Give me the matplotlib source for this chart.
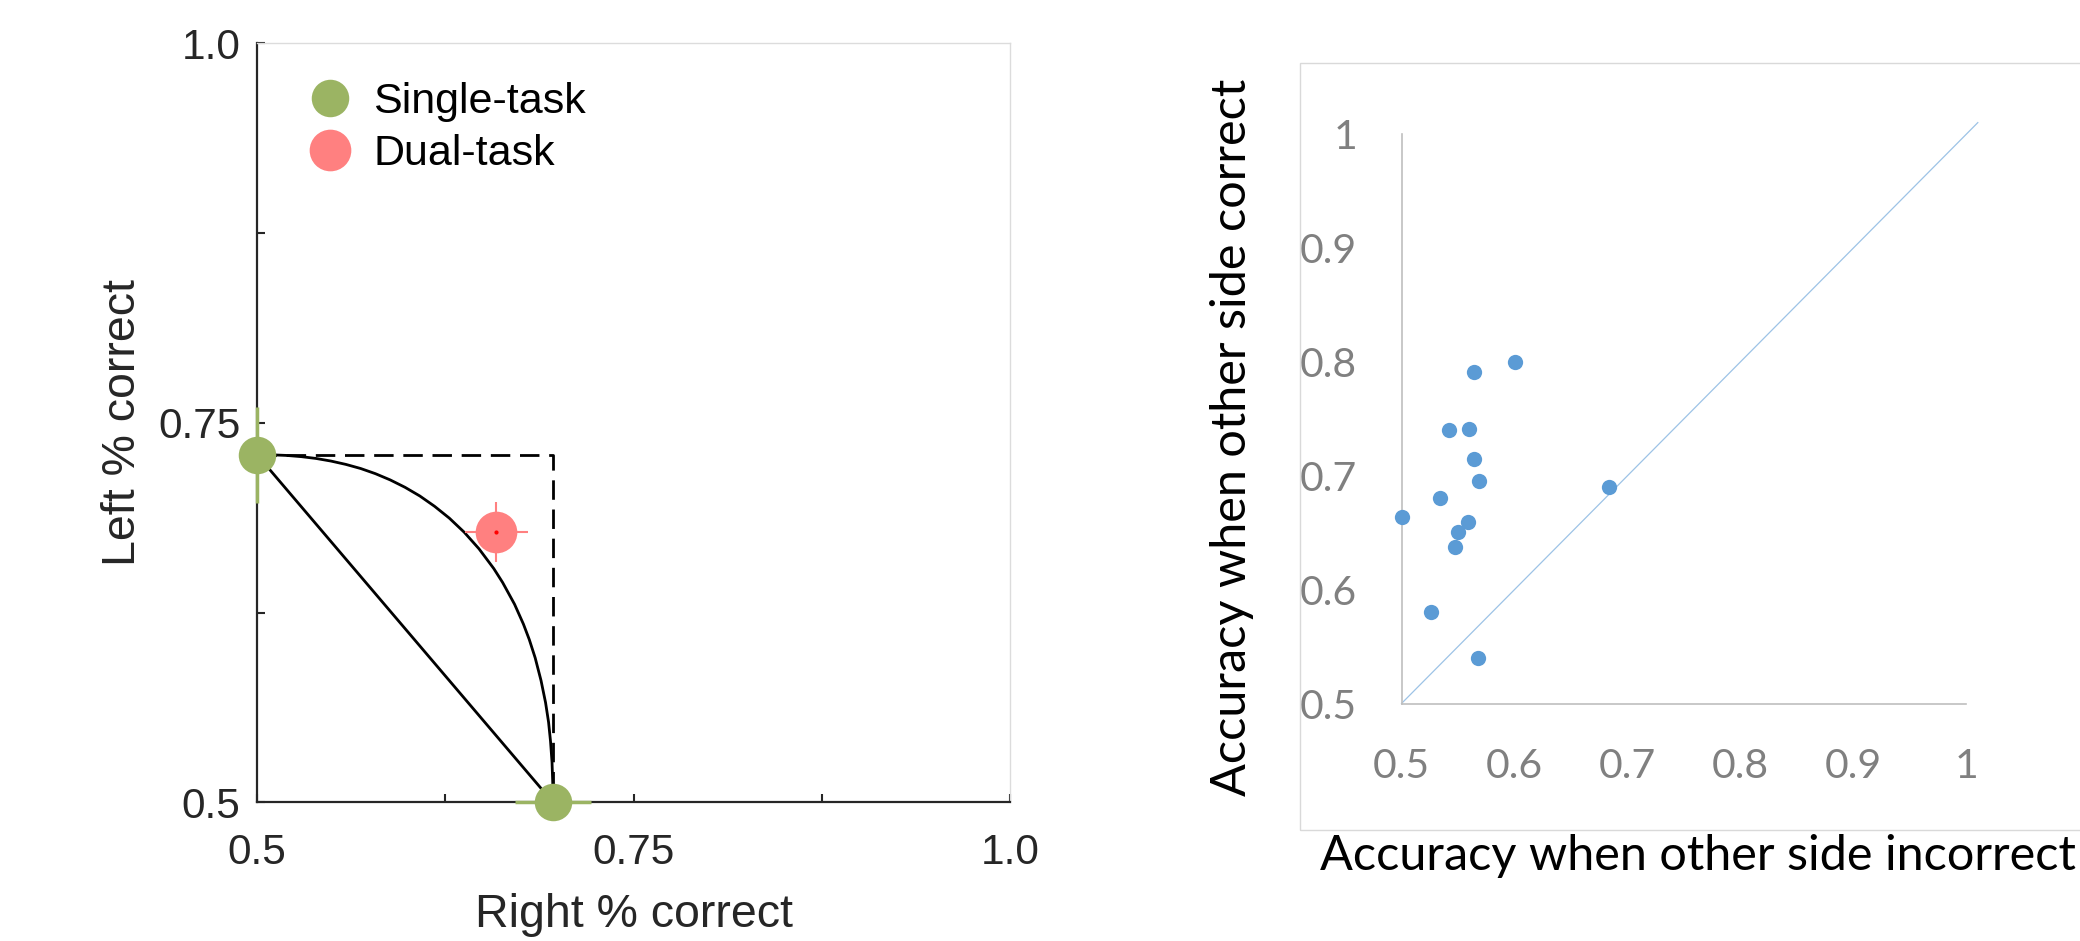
import matplotlib
matplotlib.use("Agg")
import matplotlib.pyplot as plt
from matplotlib.lines import Line2D
from matplotlib.patches import Rectangle

plt.rcParams["font.family"] = ["Liberation Sans", "DejaVu Sans"]

# left panel: single vs dual task performance
single_right = [0.500, 0.6965]
single_left = [0.729, 0.500]
single_err_right = [0.0, 0.025]
single_err_left = [0.0315, 0.0]
dual_right = [0.659]
dual_left = [0.678]
dual_err_right = [0.021]
dual_err_left = [0.020]

# bound curves
curve_x = [0.500, 0.5098, 0.5197, 0.5295, 0.5393, 0.5491, 0.559, 0.5688, 0.5786, 0.5884,
           0.5983, 0.6081, 0.6179, 0.6277, 0.6376, 0.6474, 0.6572, 0.6631, 0.671, 0.6769,
           0.6808, 0.6847, 0.6886, 0.6916, 0.6936, 0.6949, 0.6959, 0.6964, 0.6965]
curve_y = [0.729, 0.7289, 0.7285, 0.7277, 0.7265, 0.7248, 0.7226, 0.7199, 0.7165, 0.7124,
           0.7075, 0.7018, 0.695, 0.6872, 0.6779, 0.667, 0.654, 0.6448, 0.6305, 0.6174,
           0.6072, 0.5952, 0.5802, 0.5657, 0.5528, 0.5402, 0.5263, 0.5121, 0.500]
box_x = [0.500, 0.6965, 0.6965]
box_y = [0.729, 0.729, 0.500]

left_ticks = [0.5, 0.625, 0.75, 0.875, 1.0]
left_ticklabels = ["0.5", "", "0.75", "", "1.0"]

# right panel: accuracy conditioned on other side
acc_incorrect = [0.500, 0.526, 0.534, 0.542, 0.547, 0.550, 0.559, 0.560, 0.564, 0.564, 0.569, 0.568, 0.600, 0.684]
acc_correct = [0.664, 0.580, 0.680, 0.740, 0.637, 0.651, 0.659, 0.741, 0.791, 0.715, 0.695, 0.540, 0.800, 0.690]
diag = [0.5, 1.01]
right_ticks = [0.5, 0.6, 0.7, 0.8, 0.9, 1.0]
right_ticklabels = ["0.5", "0.6", "0.7", "0.8", "0.9", "1"]

green = "#9bb463"
pink = "#ff8080"
blue = "#5b9bd5"

fig = plt.figure(figsize=(20.8, 9.41), dpi=100)

# ---- left
ax = fig.add_axes([0.12356, 0.14739, 0.36202, 0.80659])
ax.plot(box_x, box_y, color="black", lw=2, dashes=(7, 3.5), zorder=2)
ax.plot([single_right[0], single_right[1]], [single_left[0], single_left[1]], color="black", lw=2, zorder=2)
ax.plot(curve_x, curve_y, color="black", lw=2, solid_joinstyle="round", zorder=2)

ax.errorbar(single_right, single_left, xerr=single_err_right, yerr=single_err_left,
            fmt="o", ms=27, color=green, mec="none", elinewidth=2.5, capsize=0,
            clip_on=False, zorder=4)
ax.errorbar(dual_right, dual_left, xerr=dual_err_right, yerr=dual_err_left,
            fmt="o", ms=30, color=pink, mec="none", elinewidth=1.5, capsize=0, zorder=4)
ax.plot(dual_right, dual_left, "o", ms=3, color="#ff0000", mec="none", zorder=5)

ax.set_xlim(0.5, 1.0)
ax.set_ylim(0.5, 1.0)
ax.set_xticks(left_ticks)
ax.set_xticklabels(left_ticklabels)
ax.set_yticks(left_ticks)
ax.set_yticklabels(left_ticklabels)
ax.tick_params(axis="x", direction="in", length=6, width=1.5, color="#262626",
               labelsize=30.5, labelcolor="#262626", pad=22)
ax.tick_params(axis="y", direction="in", length=6, width=1.5, color="#262626",
               labelsize=30.5, labelcolor="#262626", pad=12)
for s in ["left", "bottom"]:
    ax.spines[s].set_color("#262626")
    ax.spines[s].set_linewidth(1.6)
for s in ["top", "right"]:
    ax.spines[s].set_color("#dcdcdc")
    ax.spines[s].set_linewidth(1.0)

ax.set_xlabel("Right % correct", fontsize=33.5, color="#262626", va="center")
ax.xaxis.set_label_coords(0.5, -0.149)
ax.set_ylabel("Left % correct", fontsize=33.5, color="#262626", va="center")
ax.yaxis.set_label_coords(-0.178, 0.5)

handles = [Line2D([], [], marker="o", ls="none", ms=27, color=green, mec="none"),
           Line2D([], [], marker="o", ls="none", ms=30, color=pink, mec="none")]
ax.legend(handles, ["Single-task", "Dual-task"], loc="upper left",
          bbox_to_anchor=(0.0684, 0.9484), frameon=False, borderpad=0, borderaxespad=0,
          handlelength=1.0, handletextpad=0.5, labelspacing=0.26, fontsize=31)

# ---- right
fig.patches.append(Rectangle((0.625, 0.118), 0.5, 0.8147, transform=fig.transFigure,
                             fill=False, edgecolor="#d9d9d9", lw=1.0))

ax2 = fig.add_axes([0.67380, 0.25239, 0.27163, 0.60521])
ax2.plot(diag, diag, color="#9dc3e6", lw=0.9, clip_on=False, zorder=2)
ax2.plot(acc_incorrect, acc_correct, "o", ms=11, color=blue, mec="none", clip_on=False, zorder=3)
ax2.set_xlim(0.5, 1.0)
ax2.set_ylim(0.5, 1.0)
ax2.set_xticks(right_ticks)
ax2.set_xticklabels(right_ticklabels)
ax2.set_yticks(right_ticks)
ax2.set_yticklabels(right_ticklabels)
ax2.tick_params(length=0, labelsize=29.5, labelcolor="#808080", pad=32)
for lab in ax2.get_xticklabels() + ax2.get_yticklabels():
    lab.set_fontfamily("Lato")
for s in ["top", "right"]:
    ax2.spines[s].set_visible(False)
for s in ["left", "bottom"]:
    ax2.spines[s].set_color("#bfbfbf")
    ax2.spines[s].set_linewidth(1.2)

ax2.set_xlabel("Accuracy when other side incorrect", fontsize=35, family="Lato",
               color="black", ha="left", va="center")
ax2.xaxis.set_label_coords(-0.1451, -0.2678)
ax2.set_ylabel("Accuracy when other side correct", fontsize=35, family="Lato",
               color="black", va="center")
ax2.yaxis.set_label_coords(-0.300, 0.468)

fig.savefig("out.png", dpi=100)
